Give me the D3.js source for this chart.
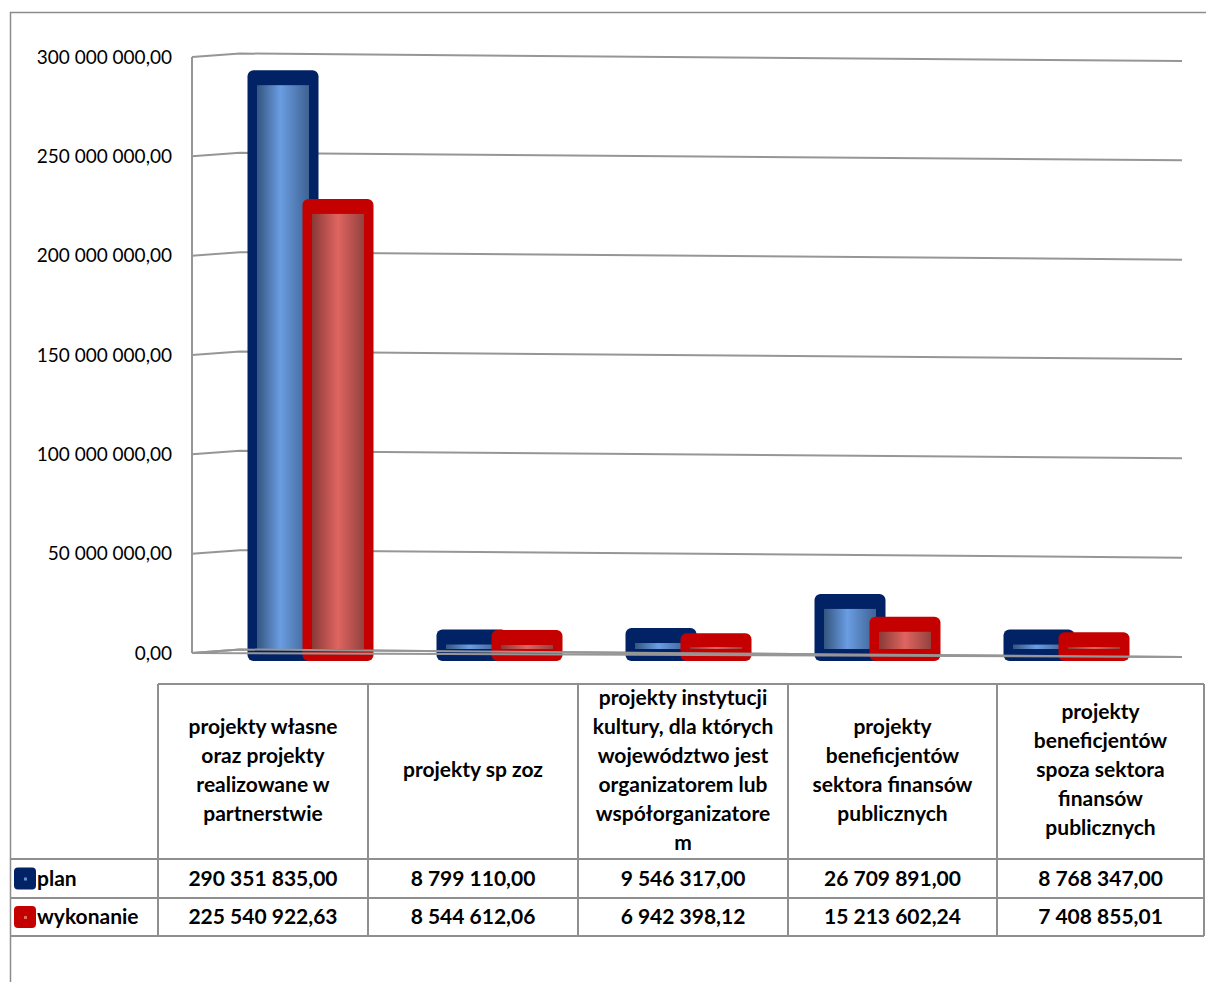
<!DOCTYPE html>
<html><head><meta charset="utf-8">
<script src="https://cdn.jsdelivr.net/npm/d3@7"></script>
<style>
html,body{margin:0;padding:0;background:#fff;}
svg{display:block;}
text{font-family:Lato,"Liberation Sans",sans-serif;fill:#000;}
</style></head>
<body>
<svg id="chart" width="1206" height="982"></svg>
<script>
const categories = [
  "projekty własne oraz projekty realizowane w partnerstwie",
  "projekty sp zoz",
  "projekty instytucji kultury, dla których województwo jest organizatorem lub współorganizatorem",
  "projekty beneficjentów sektora finansów publicznych",
  "projekty beneficjentów spoza sektora finansów publicznych"
];
const categoryLines = [
  ["projekty własne", "oraz projekty", "realizowane w", "partnerstwie"],
  ["projekty sp zoz"],
  ["projekty instytucji", "kultury, dla których", "województwo jest", "organizatorem lub", "współorganizatore", "m"],
  ["projekty", "beneficjentów", "sektora finansów", "publicznych"],
  ["projekty", "beneficjentów", "spoza sektora", "finansów", "publicznych"]
];
const seriesNames = ["plan", "wykonanie"];
const plan = [290351835.00, 8799110.00, 9546317.00, 26709891.00, 8768347.00];
const wykonanie = [225540922.63, 8544612.06, 6942398.12, 15213602.24, 7408855.01];
const yTicks = [0, 50000000, 100000000, 150000000, 200000000, 250000000, 300000000];

const locale = d3.formatLocale({decimal: ",", thousands: " ", grouping: [3], currency: ["", ""]});
const fmt = locale.format(",.2f");

const svg = d3.select("#chart");
const defs = svg.append("defs");
function grad(id, stops) {
  const g = defs.append("linearGradient").attr("id", id).attr("x1", "0%").attr("x2", "100%").attr("y1", "0%").attr("y2", "0%");
  stops.forEach(s => g.append("stop").attr("offset", s[0]).attr("stop-color", s[1]));
}
grad("gBlue", [["0%", "#34557f"], ["45%", "#6a9de2"], ["100%", "#3e6292"]]);
grad("gRed", [["0%", "#8a3a38"], ["50%", "#df6560"], ["100%", "#94423f"]]);

const series = [
  {name: seriesNames[0], values: plan, stroke: "#022266", fill: "url(#gBlue)", dot: "#5b8fd6", off: -63},
  {name: seriesNames[1], values: wykonanie, stroke: "#c40000", fill: "url(#gRed)", dot: "#e06a64", off: -8}
];

// chart border
svg.append("path").attr("d", "M10.5,982 L10.5,12.5 L1206,12.5").attr("fill", "none").attr("stroke", "#8c8c8c").attr("stroke-width", 1.5);

const y = d3.scaleLinear().domain([0, 300000000]).range([653, 57]);
const x = d3.scaleBand().domain(categories).range([216, 1161]).paddingInner(0).paddingOuter(0);
const wallX = 192, backX = 240, rightX = 1182;
const y0 = y(0);

// gridlines (perspective)
const grid = svg.append("g");
yTicks.forEach(v => {
  const yy = y(v);
  grid.append("path")
    .attr("d", `M${wallX},${yy} L${backX},${yy - 3.5} L${rightX},${yy + 4}`)
    .attr("fill", "none").attr("stroke", "#969696").attr("stroke-width", 2);
});
grid.append("line").attr("x1", wallX).attr("x2", wallX).attr("y1", y(300000000)).attr("y2", y0)
  .attr("stroke", "#969696").attr("stroke-width", 2);

// axis labels
const yAxis = d3.axisLeft(y).tickValues(yTicks).tickFormat(fmt).tickSize(0).tickPadding(0);
const ag = svg.append("g").attr("transform", `translate(172,0)`).call(yAxis);
ag.select(".domain").remove();
ag.selectAll("text").attr("font-size", 19).attr("font-family", "Lato, sans-serif").attr("fill", "#000");

// bars
const bw = 71;
const bars = svg.append("g");
categories.forEach((c, i) => {
  const cx = x(c) + x.bandwidth() / 2;
  series.forEach(s => {
    const v = s.values[i];
    const yv = y(v);
    const x0 = cx + s.off;
    bars.append("rect")
      .attr("x", x0).attr("y", yv - 6).attr("width", bw).attr("height", (y0 + 8) - (yv - 6))
      .attr("rx", 6).attr("fill", s.stroke);
    const innerTop = yv + 9, innerBot = y0 - 4;
    bars.append("rect")
      .attr("x", x0 + 9.5).attr("y", Math.min(innerTop, innerBot - 2)).attr("width", bw - 19)
      .attr("height", Math.max(2, innerBot - innerTop))
      .attr("fill", s.fill);
  });
});

// floor on top
svg.append("path")
  .attr("d", `M${wallX},${y0} L${backX},${y0 - 3.5} L${rightX},${y0 + 4} Z`)
  .attr("fill", "none").attr("stroke", "#969696").attr("stroke-width", 2);

// data table
const tbl = svg.append("g");
const colX = [158, 368, 578, 788, 997, 1204];
const tTop = 684, hBot = 859, r1Bot = 898, r2Bot = 936;
const lc = "#8f8f8f", lw = 2;
function hl(x1, x2, yy) { tbl.append("line").attr("x1", x1).attr("x2", x2).attr("y1", yy).attr("y2", yy).attr("stroke", lc).attr("stroke-width", lw); }
function vl(xx, y1, y2) { tbl.append("line").attr("x1", xx).attr("x2", xx).attr("y1", y1).attr("y2", y2).attr("stroke", lc).attr("stroke-width", lw); }
hl(colX[0], colX[5], tTop);
hl(10, colX[5], hBot);
hl(10, colX[5], r1Bot);
hl(10, colX[5], r2Bot);
colX.forEach(xx => vl(xx, tTop, r2Bot));

const fs = 21, lh = 29;
categories.forEach((c, i) => {
  const cx = (colX[i] + colX[i + 1]) / 2;
  const lines = categoryLines[i];
  const midY = 770;
  const t = tbl.append("text").attr("text-anchor", "middle").attr("font-size", fs).attr("font-weight", "bold");
  lines.forEach((ln, k) => {
    t.append("tspan").attr("x", cx).attr("y", midY + (k - (lines.length - 1) / 2) * lh).attr("dy", "0.35em").text(ln);
  });
});
const rowMid = [(hBot + r1Bot) / 2, (r1Bot + r2Bot) / 2];
series.forEach((s, r) => {
  const ry = rowMid[r];
  tbl.append("rect").attr("x", 14).attr("y", ry - 11).attr("width", 22).attr("height", 22).attr("rx", 4).attr("fill", s.stroke);
  tbl.append("rect").attr("x", 24).attr("y", ry - 1).attr("width", 3).attr("height", 3).attr("fill", s.dot);
  tbl.append("text").attr("x", 37).attr("y", ry).attr("dy", "0.35em").attr("font-size", fs).attr("font-weight", "bold").text(s.name);
  s.values.forEach((v, i) => {
    tbl.append("text").attr("x", (colX[i] + colX[i + 1]) / 2).attr("y", ry).attr("dy", "0.35em")
      .attr("text-anchor", "middle").attr("font-size", fs).attr("font-weight", "bold").text(fmt(v));
  });
});
</script>
</body></html>
